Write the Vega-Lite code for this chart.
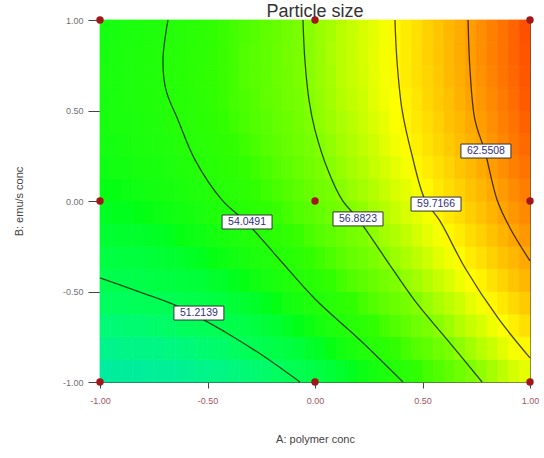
{
"$schema":"https://vega.github.io/schema/vega-lite/v6.json",
"width":430,"height":362,
"autosize":{"type":"none"},
"padding":{"left":100,"top":20,"right":14,"bottom":76},
"background":"white",
"title":{"text":"Particle size","fontSize":18,"font":"Liberation Sans","fontWeight":"normal","color":"#333333","anchor":"middle","offset":-5,"frame":"group"},
"config":{"view":{"stroke":"#4a4a4a","strokeWidth":1}},
"datasets":{
"labels":[
{"level":"51.2139","A":-0.54,"B":-0.619},
{"level":"54.0491","A":-0.316,"B":-0.116},
{"level":"56.8823","A":0.2,"B":-0.099},
{"level":"59.7166","A":0.563,"B":-0.017},
{"level":"62.5508","A":0.795,"B":0.276}
],
"design":[
{"A":-1,"B":-1},{"A":-1,"B":0},{"A":-1,"B":1},{"A":0,"B":-1},{"A":0,"B":0},{"A":0,"B":1},{"A":1,"B":-1},{"A":1,"B":0},{"A":1,"B":1}
],
"contours":[
{"level":"51.2139","A":-1,"B":-0.425,"ord":1},{"level":"51.2139","A":-0.814,"B":-0.503,"ord":2},{"level":"51.2139","A":-0.651,"B":-0.575,"ord":3},{"level":"51.2139","A":-0.535,"B":-0.646,"ord":4},{"level":"51.2139","A":-0.395,"B":-0.74,"ord":5},{"level":"51.2139","A":-0.233,"B":-0.862,"ord":6},{"level":"51.2139","A":-0.07,"B":-1,"ord":7},
{"level":"54.0491","A":-0.684,"B":1,"ord":1},{"level":"54.0491","A":-0.707,"B":0.779,"ord":2},{"level":"54.0491","A":-0.693,"B":0.613,"ord":3},{"level":"54.0491","A":-0.637,"B":0.448,"ord":4},{"level":"54.0491","A":-0.558,"B":0.227,"ord":5},{"level":"54.0491","A":-0.433,"B":0.006,"ord":6},{"level":"54.0491","A":-0.316,"B":-0.122,"ord":7},{"level":"54.0491","A":-0.163,"B":-0.326,"ord":8},{"level":"54.0491","A":0,"B":-0.541,"ord":9},{"level":"54.0491","A":0.209,"B":-0.768,"ord":10},{"level":"54.0491","A":0.409,"B":-1,"ord":11},
{"level":"56.8823","A":-0.056,"B":1,"ord":1},{"level":"56.8823","A":-0.047,"B":0.779,"ord":2},{"level":"56.8823","A":-0.028,"B":0.558,"ord":3},{"level":"56.8823","A":0,"B":0.392,"ord":4},{"level":"56.8823","A":0.06,"B":0.171,"ord":5},{"level":"56.8823","A":0.126,"B":0.006,"ord":6},{"level":"56.8823","A":0.2,"B":-0.099,"ord":7},{"level":"56.8823","A":0.326,"B":-0.315,"ord":8},{"level":"56.8823","A":0.465,"B":-0.552,"ord":9},{"level":"56.8823","A":0.628,"B":-0.785,"ord":10},{"level":"56.8823","A":0.777,"B":-1,"ord":11},
{"level":"59.7166","A":0.372,"B":1,"ord":1},{"level":"59.7166","A":0.381,"B":0.779,"ord":2},{"level":"59.7166","A":0.405,"B":0.503,"ord":3},{"level":"59.7166","A":0.451,"B":0.254,"ord":4},{"level":"59.7166","A":0.512,"B":0.006,"ord":5},{"level":"59.7166","A":0.581,"B":-0.11,"ord":6},{"level":"59.7166","A":0.698,"B":-0.37,"ord":7},{"level":"59.7166","A":0.851,"B":-0.646,"ord":8},{"level":"59.7166","A":1,"B":-0.867,"ord":9},
{"level":"62.5508","A":0.712,"B":1,"ord":1},{"level":"62.5508","A":0.721,"B":0.724,"ord":2},{"level":"62.5508","A":0.744,"B":0.448,"ord":3},{"level":"62.5508","A":0.791,"B":0.271,"ord":4},{"level":"62.5508","A":0.847,"B":0.006,"ord":5},{"level":"62.5508","A":0.907,"B":-0.149,"ord":6},{"level":"62.5508","A":1,"B":-0.331,"ord":7}
],
"grid":[
{"B":-0.9375,"A":-0.975,"size":49.3},{"B":-0.9375,"A":-0.925,"size":49.4},{"B":-0.9375,"A":-0.875,"size":49.4},{"B":-0.9375,"A":-0.825,"size":49.4},{"B":-0.9375,"A":-0.775,"size":49.5},{"B":-0.9375,"A":-0.725,"size":49.6},{"B":-0.9375,"A":-0.675,"size":49.6},{"B":-0.9375,"A":-0.625,"size":49.7},{"B":-0.9375,"A":-0.575,"size":49.9},{"B":-0.9375,"A":-0.525,"size":50.0},{"B":-0.9375,"A":-0.475,"size":50.1},{"B":-0.9375,"A":-0.425,"size":50.2},{"B":-0.9375,"A":-0.375,"size":50.4},{"B":-0.9375,"A":-0.325,"size":50.6},{"B":-0.9375,"A":-0.275,"size":50.7},{"B":-0.9375,"A":-0.225,"size":50.9},{"B":-0.9375,"A":-0.175,"size":51.1},{"B":-0.9375,"A":-0.125,"size":51.4},{"B":-0.9375,"A":-0.075,"size":51.6},{"B":-0.9375,"A":-0.025,"size":51.8},{"B":-0.9375,"A":0.025,"size":52.1},{"B":-0.9375,"A":0.075,"size":52.3},{"B":-0.9375,"A":0.125,"size":52.6},{"B":-0.9375,"A":0.175,"size":52.9},{"B":-0.9375,"A":0.225,"size":53.2},{"B":-0.9375,"A":0.275,"size":53.5},{"B":-0.9375,"A":0.325,"size":53.8},{"B":-0.9375,"A":0.375,"size":54.2},{"B":-0.9375,"A":0.425,"size":54.5},{"B":-0.9375,"A":0.475,"size":54.9},{"B":-0.9375,"A":0.525,"size":55.3},{"B":-0.9375,"A":0.575,"size":55.6},{"B":-0.9375,"A":0.625,"size":56.0},{"B":-0.9375,"A":0.675,"size":56.4},{"B":-0.9375,"A":0.725,"size":56.9},{"B":-0.9375,"A":0.775,"size":57.3},{"B":-0.9375,"A":0.825,"size":57.7},{"B":-0.9375,"A":0.875,"size":58.2},{"B":-0.9375,"A":0.925,"size":58.7},{"B":-0.9375,"A":0.975,"size":59.1},
{"B":-0.8125,"A":-0.975,"size":50.0},{"B":-0.8125,"A":-0.925,"size":50.0},{"B":-0.8125,"A":-0.875,"size":50.1},{"B":-0.8125,"A":-0.825,"size":50.1},{"B":-0.8125,"A":-0.775,"size":50.2},{"B":-0.8125,"A":-0.725,"size":50.2},{"B":-0.8125,"A":-0.675,"size":50.3},{"B":-0.8125,"A":-0.625,"size":50.4},{"B":-0.8125,"A":-0.575,"size":50.5},{"B":-0.8125,"A":-0.525,"size":50.7},{"B":-0.8125,"A":-0.475,"size":50.8},{"B":-0.8125,"A":-0.425,"size":50.9},{"B":-0.8125,"A":-0.375,"size":51.1},{"B":-0.8125,"A":-0.325,"size":51.3},{"B":-0.8125,"A":-0.275,"size":51.5},{"B":-0.8125,"A":-0.225,"size":51.7},{"B":-0.8125,"A":-0.175,"size":51.9},{"B":-0.8125,"A":-0.125,"size":52.1},{"B":-0.8125,"A":-0.075,"size":52.3},{"B":-0.8125,"A":-0.025,"size":52.6},{"B":-0.8125,"A":0.025,"size":52.8},{"B":-0.8125,"A":0.075,"size":53.1},{"B":-0.8125,"A":0.125,"size":53.4},{"B":-0.8125,"A":0.175,"size":53.7},{"B":-0.8125,"A":0.225,"size":54.0},{"B":-0.8125,"A":0.275,"size":54.3},{"B":-0.8125,"A":0.325,"size":54.6},{"B":-0.8125,"A":0.375,"size":54.9},{"B":-0.8125,"A":0.425,"size":55.3},{"B":-0.8125,"A":0.475,"size":55.7},{"B":-0.8125,"A":0.525,"size":56.0},{"B":-0.8125,"A":0.575,"size":56.4},{"B":-0.8125,"A":0.625,"size":56.8},{"B":-0.8125,"A":0.675,"size":57.2},{"B":-0.8125,"A":0.725,"size":57.6},{"B":-0.8125,"A":0.775,"size":58.1},{"B":-0.8125,"A":0.825,"size":58.5},{"B":-0.8125,"A":0.875,"size":59.0},{"B":-0.8125,"A":0.925,"size":59.5},{"B":-0.8125,"A":0.975,"size":59.9},
{"B":-0.6875,"A":-0.975,"size":50.6},{"B":-0.6875,"A":-0.925,"size":50.6},{"B":-0.6875,"A":-0.875,"size":50.7},{"B":-0.6875,"A":-0.825,"size":50.7},{"B":-0.6875,"A":-0.775,"size":50.8},{"B":-0.6875,"A":-0.725,"size":50.9},{"B":-0.6875,"A":-0.675,"size":51.0},{"B":-0.6875,"A":-0.625,"size":51.1},{"B":-0.6875,"A":-0.575,"size":51.2},{"B":-0.6875,"A":-0.525,"size":51.3},{"B":-0.6875,"A":-0.475,"size":51.4},{"B":-0.6875,"A":-0.425,"size":51.6},{"B":-0.6875,"A":-0.375,"size":51.8},{"B":-0.6875,"A":-0.325,"size":51.9},{"B":-0.6875,"A":-0.275,"size":52.1},{"B":-0.6875,"A":-0.225,"size":52.3},{"B":-0.6875,"A":-0.175,"size":52.5},{"B":-0.6875,"A":-0.125,"size":52.8},{"B":-0.6875,"A":-0.075,"size":53.0},{"B":-0.6875,"A":-0.025,"size":53.2},{"B":-0.6875,"A":0.025,"size":53.5},{"B":-0.6875,"A":0.075,"size":53.8},{"B":-0.6875,"A":0.125,"size":54.1},{"B":-0.6875,"A":0.175,"size":54.3},{"B":-0.6875,"A":0.225,"size":54.7},{"B":-0.6875,"A":0.275,"size":55.0},{"B":-0.6875,"A":0.325,"size":55.3},{"B":-0.6875,"A":0.375,"size":55.6},{"B":-0.6875,"A":0.425,"size":56.0},{"B":-0.6875,"A":0.475,"size":56.4},{"B":-0.6875,"A":0.525,"size":56.8},{"B":-0.6875,"A":0.575,"size":57.1},{"B":-0.6875,"A":0.625,"size":57.5},{"B":-0.6875,"A":0.675,"size":58.0},{"B":-0.6875,"A":0.725,"size":58.4},{"B":-0.6875,"A":0.775,"size":58.8},{"B":-0.6875,"A":0.825,"size":59.3},{"B":-0.6875,"A":0.875,"size":59.7},{"B":-0.6875,"A":0.925,"size":60.2},{"B":-0.6875,"A":0.975,"size":60.7},
{"B":-0.5625,"A":-0.975,"size":51.1},{"B":-0.5625,"A":-0.925,"size":51.2},{"B":-0.5625,"A":-0.875,"size":51.2},{"B":-0.5625,"A":-0.825,"size":51.3},{"B":-0.5625,"A":-0.775,"size":51.4},{"B":-0.5625,"A":-0.725,"size":51.4},{"B":-0.5625,"A":-0.675,"size":51.5},{"B":-0.5625,"A":-0.625,"size":51.6},{"B":-0.5625,"A":-0.575,"size":51.8},{"B":-0.5625,"A":-0.525,"size":51.9},{"B":-0.5625,"A":-0.475,"size":52.0},{"B":-0.5625,"A":-0.425,"size":52.2},{"B":-0.5625,"A":-0.375,"size":52.4},{"B":-0.5625,"A":-0.325,"size":52.5},{"B":-0.5625,"A":-0.275,"size":52.7},{"B":-0.5625,"A":-0.225,"size":52.9},{"B":-0.5625,"A":-0.175,"size":53.1},{"B":-0.5625,"A":-0.125,"size":53.4},{"B":-0.5625,"A":-0.075,"size":53.6},{"B":-0.5625,"A":-0.025,"size":53.9},{"B":-0.5625,"A":0.025,"size":54.1},{"B":-0.5625,"A":0.075,"size":54.4},{"B":-0.5625,"A":0.125,"size":54.7},{"B":-0.5625,"A":0.175,"size":55.0},{"B":-0.5625,"A":0.225,"size":55.3},{"B":-0.5625,"A":0.275,"size":55.6},{"B":-0.5625,"A":0.325,"size":56.0},{"B":-0.5625,"A":0.375,"size":56.3},{"B":-0.5625,"A":0.425,"size":56.7},{"B":-0.5625,"A":0.475,"size":57.0},{"B":-0.5625,"A":0.525,"size":57.4},{"B":-0.5625,"A":0.575,"size":57.8},{"B":-0.5625,"A":0.625,"size":58.2},{"B":-0.5625,"A":0.675,"size":58.6},{"B":-0.5625,"A":0.725,"size":59.1},{"B":-0.5625,"A":0.775,"size":59.5},{"B":-0.5625,"A":0.825,"size":60.0},{"B":-0.5625,"A":0.875,"size":60.4},{"B":-0.5625,"A":0.925,"size":60.9},{"B":-0.5625,"A":0.975,"size":61.4},
{"B":-0.4375,"A":-0.975,"size":51.6},{"B":-0.4375,"A":-0.925,"size":51.7},{"B":-0.4375,"A":-0.875,"size":51.7},{"B":-0.4375,"A":-0.825,"size":51.8},{"B":-0.4375,"A":-0.775,"size":51.9},{"B":-0.4375,"A":-0.725,"size":52.0},{"B":-0.4375,"A":-0.675,"size":52.1},{"B":-0.4375,"A":-0.625,"size":52.2},{"B":-0.4375,"A":-0.575,"size":52.3},{"B":-0.4375,"A":-0.525,"size":52.4},{"B":-0.4375,"A":-0.475,"size":52.6},{"B":-0.4375,"A":-0.425,"size":52.7},{"B":-0.4375,"A":-0.375,"size":52.9},{"B":-0.4375,"A":-0.325,"size":53.1},{"B":-0.4375,"A":-0.275,"size":53.3},{"B":-0.4375,"A":-0.225,"size":53.5},{"B":-0.4375,"A":-0.175,"size":53.7},{"B":-0.4375,"A":-0.125,"size":53.9},{"B":-0.4375,"A":-0.075,"size":54.2},{"B":-0.4375,"A":-0.025,"size":54.4},{"B":-0.4375,"A":0.025,"size":54.7},{"B":-0.4375,"A":0.075,"size":55.0},{"B":-0.4375,"A":0.125,"size":55.3},{"B":-0.4375,"A":0.175,"size":55.6},{"B":-0.4375,"A":0.225,"size":55.9},{"B":-0.4375,"A":0.275,"size":56.2},{"B":-0.4375,"A":0.325,"size":56.6},{"B":-0.4375,"A":0.375,"size":56.9},{"B":-0.4375,"A":0.425,"size":57.3},{"B":-0.4375,"A":0.475,"size":57.6},{"B":-0.4375,"A":0.525,"size":58.0},{"B":-0.4375,"A":0.575,"size":58.4},{"B":-0.4375,"A":0.625,"size":58.8},{"B":-0.4375,"A":0.675,"size":59.3},{"B":-0.4375,"A":0.725,"size":59.7},{"B":-0.4375,"A":0.775,"size":60.1},{"B":-0.4375,"A":0.825,"size":60.6},{"B":-0.4375,"A":0.875,"size":61.1},{"B":-0.4375,"A":0.925,"size":61.6},{"B":-0.4375,"A":0.975,"size":62.1},
{"B":-0.3125,"A":-0.975,"size":52.1},{"B":-0.3125,"A":-0.925,"size":52.1},{"B":-0.3125,"A":-0.875,"size":52.2},{"B":-0.3125,"A":-0.825,"size":52.2},{"B":-0.3125,"A":-0.775,"size":52.3},{"B":-0.3125,"A":-0.725,"size":52.4},{"B":-0.3125,"A":-0.675,"size":52.5},{"B":-0.3125,"A":-0.625,"size":52.6},{"B":-0.3125,"A":-0.575,"size":52.8},{"B":-0.3125,"A":-0.525,"size":52.9},{"B":-0.3125,"A":-0.475,"size":53.1},{"B":-0.3125,"A":-0.425,"size":53.2},{"B":-0.3125,"A":-0.375,"size":53.4},{"B":-0.3125,"A":-0.325,"size":53.6},{"B":-0.3125,"A":-0.275,"size":53.8},{"B":-0.3125,"A":-0.225,"size":54.0},{"B":-0.3125,"A":-0.175,"size":54.2},{"B":-0.3125,"A":-0.125,"size":54.4},{"B":-0.3125,"A":-0.075,"size":54.7},{"B":-0.3125,"A":-0.025,"size":55.0},{"B":-0.3125,"A":0.025,"size":55.2},{"B":-0.3125,"A":0.075,"size":55.5},{"B":-0.3125,"A":0.125,"size":55.8},{"B":-0.3125,"A":0.175,"size":56.1},{"B":-0.3125,"A":0.225,"size":56.4},{"B":-0.3125,"A":0.275,"size":56.8},{"B":-0.3125,"A":0.325,"size":57.1},{"B":-0.3125,"A":0.375,"size":57.5},{"B":-0.3125,"A":0.425,"size":57.8},{"B":-0.3125,"A":0.475,"size":58.2},{"B":-0.3125,"A":0.525,"size":58.6},{"B":-0.3125,"A":0.575,"size":59.0},{"B":-0.3125,"A":0.625,"size":59.4},{"B":-0.3125,"A":0.675,"size":59.8},{"B":-0.3125,"A":0.725,"size":60.3},{"B":-0.3125,"A":0.775,"size":60.7},{"B":-0.3125,"A":0.825,"size":61.2},{"B":-0.3125,"A":0.875,"size":61.7},{"B":-0.3125,"A":0.925,"size":62.1},{"B":-0.3125,"A":0.975,"size":62.6},
{"B":-0.1875,"A":-0.975,"size":52.5},{"B":-0.1875,"A":-0.925,"size":52.5},{"B":-0.1875,"A":-0.875,"size":52.6},{"B":-0.1875,"A":-0.825,"size":52.6},{"B":-0.1875,"A":-0.775,"size":52.7},{"B":-0.1875,"A":-0.725,"size":52.8},{"B":-0.1875,"A":-0.675,"size":52.9},{"B":-0.1875,"A":-0.625,"size":53.1},{"B":-0.1875,"A":-0.575,"size":53.2},{"B":-0.1875,"A":-0.525,"size":53.3},{"B":-0.1875,"A":-0.475,"size":53.5},{"B":-0.1875,"A":-0.425,"size":53.6},{"B":-0.1875,"A":-0.375,"size":53.8},{"B":-0.1875,"A":-0.325,"size":54.0},{"B":-0.1875,"A":-0.275,"size":54.2},{"B":-0.1875,"A":-0.225,"size":54.4},{"B":-0.1875,"A":-0.175,"size":54.7},{"B":-0.1875,"A":-0.125,"size":54.9},{"B":-0.1875,"A":-0.075,"size":55.1},{"B":-0.1875,"A":-0.025,"size":55.4},{"B":-0.1875,"A":0.025,"size":55.7},{"B":-0.1875,"A":0.075,"size":56.0},{"B":-0.1875,"A":0.125,"size":56.3},{"B":-0.1875,"A":0.175,"size":56.6},{"B":-0.1875,"A":0.225,"size":56.9},{"B":-0.1875,"A":0.275,"size":57.2},{"B":-0.1875,"A":0.325,"size":57.6},{"B":-0.1875,"A":0.375,"size":57.9},{"B":-0.1875,"A":0.425,"size":58.3},{"B":-0.1875,"A":0.475,"size":58.7},{"B":-0.1875,"A":0.525,"size":59.1},{"B":-0.1875,"A":0.575,"size":59.5},{"B":-0.1875,"A":0.625,"size":59.9},{"B":-0.1875,"A":0.675,"size":60.3},{"B":-0.1875,"A":0.725,"size":60.8},{"B":-0.1875,"A":0.775,"size":61.2},{"B":-0.1875,"A":0.825,"size":61.7},{"B":-0.1875,"A":0.875,"size":62.2},{"B":-0.1875,"A":0.925,"size":62.7},{"B":-0.1875,"A":0.975,"size":63.2},
{"B":-0.0625,"A":-0.975,"size":52.8},{"B":-0.0625,"A":-0.925,"size":52.9},{"B":-0.0625,"A":-0.875,"size":52.9},{"B":-0.0625,"A":-0.825,"size":53.0},{"B":-0.0625,"A":-0.775,"size":53.1},{"B":-0.0625,"A":-0.725,"size":53.2},{"B":-0.0625,"A":-0.675,"size":53.3},{"B":-0.0625,"A":-0.625,"size":53.4},{"B":-0.0625,"A":-0.575,"size":53.5},{"B":-0.0625,"A":-0.525,"size":53.7},{"B":-0.0625,"A":-0.475,"size":53.9},{"B":-0.0625,"A":-0.425,"size":54.0},{"B":-0.0625,"A":-0.375,"size":54.2},{"B":-0.0625,"A":-0.325,"size":54.4},{"B":-0.0625,"A":-0.275,"size":54.6},{"B":-0.0625,"A":-0.225,"size":54.8},{"B":-0.0625,"A":-0.175,"size":55.1},{"B":-0.0625,"A":-0.125,"size":55.3},{"B":-0.0625,"A":-0.075,"size":55.6},{"B":-0.0625,"A":-0.025,"size":55.8},{"B":-0.0625,"A":0.025,"size":56.1},{"B":-0.0625,"A":0.075,"size":56.4},{"B":-0.0625,"A":0.125,"size":56.7},{"B":-0.0625,"A":0.175,"size":57.0},{"B":-0.0625,"A":0.225,"size":57.3},{"B":-0.0625,"A":0.275,"size":57.7},{"B":-0.0625,"A":0.325,"size":58.0},{"B":-0.0625,"A":0.375,"size":58.4},{"B":-0.0625,"A":0.425,"size":58.8},{"B":-0.0625,"A":0.475,"size":59.1},{"B":-0.0625,"A":0.525,"size":59.5},{"B":-0.0625,"A":0.575,"size":60.0},{"B":-0.0625,"A":0.625,"size":60.4},{"B":-0.0625,"A":0.675,"size":60.8},{"B":-0.0625,"A":0.725,"size":61.3},{"B":-0.0625,"A":0.775,"size":61.7},{"B":-0.0625,"A":0.825,"size":62.2},{"B":-0.0625,"A":0.875,"size":62.7},{"B":-0.0625,"A":0.925,"size":63.2},{"B":-0.0625,"A":0.975,"size":63.7},
{"B":0.0625,"A":-0.975,"size":53.1},{"B":0.0625,"A":-0.925,"size":53.1},{"B":0.0625,"A":-0.875,"size":53.2},{"B":0.0625,"A":-0.825,"size":53.3},{"B":0.0625,"A":-0.775,"size":53.4},{"B":0.0625,"A":-0.725,"size":53.5},{"B":0.0625,"A":-0.675,"size":53.6},{"B":0.0625,"A":-0.625,"size":53.7},{"B":0.0625,"A":-0.575,"size":53.9},{"B":0.0625,"A":-0.525,"size":54.0},{"B":0.0625,"A":-0.475,"size":54.2},{"B":0.0625,"A":-0.425,"size":54.3},{"B":0.0625,"A":-0.375,"size":54.5},{"B":0.0625,"A":-0.325,"size":54.7},{"B":0.0625,"A":-0.275,"size":54.9},{"B":0.0625,"A":-0.225,"size":55.2},{"B":0.0625,"A":-0.175,"size":55.4},{"B":0.0625,"A":-0.125,"size":55.6},{"B":0.0625,"A":-0.075,"size":55.9},{"B":0.0625,"A":-0.025,"size":56.2},{"B":0.0625,"A":0.025,"size":56.5},{"B":0.0625,"A":0.075,"size":56.7},{"B":0.0625,"A":0.125,"size":57.1},{"B":0.0625,"A":0.175,"size":57.4},{"B":0.0625,"A":0.225,"size":57.7},{"B":0.0625,"A":0.275,"size":58.0},{"B":0.0625,"A":0.325,"size":58.4},{"B":0.0625,"A":0.375,"size":58.8},{"B":0.0625,"A":0.425,"size":59.1},{"B":0.0625,"A":0.475,"size":59.5},{"B":0.0625,"A":0.525,"size":59.9},{"B":0.0625,"A":0.575,"size":60.4},{"B":0.0625,"A":0.625,"size":60.8},{"B":0.0625,"A":0.675,"size":61.2},{"B":0.0625,"A":0.725,"size":61.7},{"B":0.0625,"A":0.775,"size":62.1},{"B":0.0625,"A":0.825,"size":62.6},{"B":0.0625,"A":0.875,"size":63.1},{"B":0.0625,"A":0.925,"size":63.6},{"B":0.0625,"A":0.975,"size":64.1},
{"B":0.1875,"A":-0.975,"size":53.3},{"B":0.1875,"A":-0.925,"size":53.4},{"B":0.1875,"A":-0.875,"size":53.4},{"B":0.1875,"A":-0.825,"size":53.5},{"B":0.1875,"A":-0.775,"size":53.6},{"B":0.1875,"A":-0.725,"size":53.7},{"B":0.1875,"A":-0.675,"size":53.8},{"B":0.1875,"A":-0.625,"size":54.0},{"B":0.1875,"A":-0.575,"size":54.1},{"B":0.1875,"A":-0.525,"size":54.3},{"B":0.1875,"A":-0.475,"size":54.4},{"B":0.1875,"A":-0.425,"size":54.6},{"B":0.1875,"A":-0.375,"size":54.8},{"B":0.1875,"A":-0.325,"size":55.0},{"B":0.1875,"A":-0.275,"size":55.2},{"B":0.1875,"A":-0.225,"size":55.4},{"B":0.1875,"A":-0.175,"size":55.7},{"B":0.1875,"A":-0.125,"size":55.9},{"B":0.1875,"A":-0.075,"size":56.2},{"B":0.1875,"A":-0.025,"size":56.5},{"B":0.1875,"A":0.025,"size":56.8},{"B":0.1875,"A":0.075,"size":57.1},{"B":0.1875,"A":0.125,"size":57.4},{"B":0.1875,"A":0.175,"size":57.7},{"B":0.1875,"A":0.225,"size":58.0},{"B":0.1875,"A":0.275,"size":58.4},{"B":0.1875,"A":0.325,"size":58.7},{"B":0.1875,"A":0.375,"size":59.1},{"B":0.1875,"A":0.425,"size":59.5},{"B":0.1875,"A":0.475,"size":59.9},{"B":0.1875,"A":0.525,"size":60.3},{"B":0.1875,"A":0.575,"size":60.7},{"B":0.1875,"A":0.625,"size":61.1},{"B":0.1875,"A":0.675,"size":61.6},{"B":0.1875,"A":0.725,"size":62.0},{"B":0.1875,"A":0.775,"size":62.5},{"B":0.1875,"A":0.825,"size":63.0},{"B":0.1875,"A":0.875,"size":63.5},{"B":0.1875,"A":0.925,"size":64.0},{"B":0.1875,"A":0.975,"size":64.5},
{"B":0.3125,"A":-0.975,"size":53.5},{"B":0.3125,"A":-0.925,"size":53.5},{"B":0.3125,"A":-0.875,"size":53.6},{"B":0.3125,"A":-0.825,"size":53.7},{"B":0.3125,"A":-0.775,"size":53.8},{"B":0.3125,"A":-0.725,"size":53.9},{"B":0.3125,"A":-0.675,"size":54.0},{"B":0.3125,"A":-0.625,"size":54.2},{"B":0.3125,"A":-0.575,"size":54.3},{"B":0.3125,"A":-0.525,"size":54.5},{"B":0.3125,"A":-0.475,"size":54.6},{"B":0.3125,"A":-0.425,"size":54.8},{"B":0.3125,"A":-0.375,"size":55.0},{"B":0.3125,"A":-0.325,"size":55.2},{"B":0.3125,"A":-0.275,"size":55.4},{"B":0.3125,"A":-0.225,"size":55.7},{"B":0.3125,"A":-0.175,"size":55.9},{"B":0.3125,"A":-0.125,"size":56.2},{"B":0.3125,"A":-0.075,"size":56.4},{"B":0.3125,"A":-0.025,"size":56.7},{"B":0.3125,"A":0.025,"size":57.0},{"B":0.3125,"A":0.075,"size":57.3},{"B":0.3125,"A":0.125,"size":57.6},{"B":0.3125,"A":0.175,"size":57.9},{"B":0.3125,"A":0.225,"size":58.3},{"B":0.3125,"A":0.275,"size":58.6},{"B":0.3125,"A":0.325,"size":59.0},{"B":0.3125,"A":0.375,"size":59.4},{"B":0.3125,"A":0.425,"size":59.8},{"B":0.3125,"A":0.475,"size":60.2},{"B":0.3125,"A":0.525,"size":60.6},{"B":0.3125,"A":0.575,"size":61.0},{"B":0.3125,"A":0.625,"size":61.4},{"B":0.3125,"A":0.675,"size":61.9},{"B":0.3125,"A":0.725,"size":62.3},{"B":0.3125,"A":0.775,"size":62.8},{"B":0.3125,"A":0.825,"size":63.3},{"B":0.3125,"A":0.875,"size":63.8},{"B":0.3125,"A":0.925,"size":64.3},{"B":0.3125,"A":0.975,"size":64.8},
{"B":0.4375,"A":-0.975,"size":53.6},{"B":0.4375,"A":-0.925,"size":53.7},{"B":0.4375,"A":-0.875,"size":53.7},{"B":0.4375,"A":-0.825,"size":53.8},{"B":0.4375,"A":-0.775,"size":53.9},{"B":0.4375,"A":-0.725,"size":54.0},{"B":0.4375,"A":-0.675,"size":54.2},{"B":0.4375,"A":-0.625,"size":54.3},{"B":0.4375,"A":-0.575,"size":54.5},{"B":0.4375,"A":-0.525,"size":54.6},{"B":0.4375,"A":-0.475,"size":54.8},{"B":0.4375,"A":-0.425,"size":55.0},{"B":0.4375,"A":-0.375,"size":55.2},{"B":0.4375,"A":-0.325,"size":55.4},{"B":0.4375,"A":-0.275,"size":55.6},{"B":0.4375,"A":-0.225,"size":55.8},{"B":0.4375,"A":-0.175,"size":56.1},{"B":0.4375,"A":-0.125,"size":56.3},{"B":0.4375,"A":-0.075,"size":56.6},{"B":0.4375,"A":-0.025,"size":56.9},{"B":0.4375,"A":0.025,"size":57.2},{"B":0.4375,"A":0.075,"size":57.5},{"B":0.4375,"A":0.125,"size":57.8},{"B":0.4375,"A":0.175,"size":58.1},{"B":0.4375,"A":0.225,"size":58.5},{"B":0.4375,"A":0.275,"size":58.8},{"B":0.4375,"A":0.325,"size":59.2},{"B":0.4375,"A":0.375,"size":59.6},{"B":0.4375,"A":0.425,"size":60.0},{"B":0.4375,"A":0.475,"size":60.4},{"B":0.4375,"A":0.525,"size":60.8},{"B":0.4375,"A":0.575,"size":61.2},{"B":0.4375,"A":0.625,"size":61.7},{"B":0.4375,"A":0.675,"size":62.1},{"B":0.4375,"A":0.725,"size":62.6},{"B":0.4375,"A":0.775,"size":63.0},{"B":0.4375,"A":0.825,"size":63.5},{"B":0.4375,"A":0.875,"size":64.0},{"B":0.4375,"A":0.925,"size":64.5},{"B":0.4375,"A":0.975,"size":65.1},
{"B":0.5625,"A":-0.975,"size":53.6},{"B":0.5625,"A":-0.925,"size":53.7},{"B":0.5625,"A":-0.875,"size":53.8},{"B":0.5625,"A":-0.825,"size":53.9},{"B":0.5625,"A":-0.775,"size":54.0},{"B":0.5625,"A":-0.725,"size":54.1},{"B":0.5625,"A":-0.675,"size":54.2},{"B":0.5625,"A":-0.625,"size":54.4},{"B":0.5625,"A":-0.575,"size":54.5},{"B":0.5625,"A":-0.525,"size":54.7},{"B":0.5625,"A":-0.475,"size":54.9},{"B":0.5625,"A":-0.425,"size":55.1},{"B":0.5625,"A":-0.375,"size":55.3},{"B":0.5625,"A":-0.325,"size":55.5},{"B":0.5625,"A":-0.275,"size":55.7},{"B":0.5625,"A":-0.225,"size":56.0},{"B":0.5625,"A":-0.175,"size":56.2},{"B":0.5625,"A":-0.125,"size":56.5},{"B":0.5625,"A":-0.075,"size":56.7},{"B":0.5625,"A":-0.025,"size":57.0},{"B":0.5625,"A":0.025,"size":57.3},{"B":0.5625,"A":0.075,"size":57.6},{"B":0.5625,"A":0.125,"size":58.0},{"B":0.5625,"A":0.175,"size":58.3},{"B":0.5625,"A":0.225,"size":58.6},{"B":0.5625,"A":0.275,"size":59.0},{"B":0.5625,"A":0.325,"size":59.4},{"B":0.5625,"A":0.375,"size":59.7},{"B":0.5625,"A":0.425,"size":60.1},{"B":0.5625,"A":0.475,"size":60.5},{"B":0.5625,"A":0.525,"size":61.0},{"B":0.5625,"A":0.575,"size":61.4},{"B":0.5625,"A":0.625,"size":61.8},{"B":0.5625,"A":0.675,"size":62.3},{"B":0.5625,"A":0.725,"size":62.8},{"B":0.5625,"A":0.775,"size":63.2},{"B":0.5625,"A":0.825,"size":63.7},{"B":0.5625,"A":0.875,"size":64.2},{"B":0.5625,"A":0.925,"size":64.7},{"B":0.5625,"A":0.975,"size":65.3},
{"B":0.6875,"A":-0.975,"size":53.7},{"B":0.6875,"A":-0.925,"size":53.7},{"B":0.6875,"A":-0.875,"size":53.8},{"B":0.6875,"A":-0.825,"size":53.9},{"B":0.6875,"A":-0.775,"size":54.0},{"B":0.6875,"A":-0.725,"size":54.1},{"B":0.6875,"A":-0.675,"size":54.3},{"B":0.6875,"A":-0.625,"size":54.4},{"B":0.6875,"A":-0.575,"size":54.6},{"B":0.6875,"A":-0.525,"size":54.8},{"B":0.6875,"A":-0.475,"size":54.9},{"B":0.6875,"A":-0.425,"size":55.1},{"B":0.6875,"A":-0.375,"size":55.3},{"B":0.6875,"A":-0.325,"size":55.6},{"B":0.6875,"A":-0.275,"size":55.8},{"B":0.6875,"A":-0.225,"size":56.0},{"B":0.6875,"A":-0.175,"size":56.3},{"B":0.6875,"A":-0.125,"size":56.5},{"B":0.6875,"A":-0.075,"size":56.8},{"B":0.6875,"A":-0.025,"size":57.1},{"B":0.6875,"A":0.025,"size":57.4},{"B":0.6875,"A":0.075,"size":57.7},{"B":0.6875,"A":0.125,"size":58.1},{"B":0.6875,"A":0.175,"size":58.4},{"B":0.6875,"A":0.225,"size":58.7},{"B":0.6875,"A":0.275,"size":59.1},{"B":0.6875,"A":0.325,"size":59.5},{"B":0.6875,"A":0.375,"size":59.9},{"B":0.6875,"A":0.425,"size":60.3},{"B":0.6875,"A":0.475,"size":60.7},{"B":0.6875,"A":0.525,"size":61.1},{"B":0.6875,"A":0.575,"size":61.5},{"B":0.6875,"A":0.625,"size":62.0},{"B":0.6875,"A":0.675,"size":62.4},{"B":0.6875,"A":0.725,"size":62.9},{"B":0.6875,"A":0.775,"size":63.4},{"B":0.6875,"A":0.825,"size":63.9},{"B":0.6875,"A":0.875,"size":64.4},{"B":0.6875,"A":0.925,"size":64.9},{"B":0.6875,"A":0.975,"size":65.4},
{"B":0.8125,"A":-0.975,"size":53.6},{"B":0.8125,"A":-0.925,"size":53.7},{"B":0.8125,"A":-0.875,"size":53.8},{"B":0.8125,"A":-0.825,"size":53.9},{"B":0.8125,"A":-0.775,"size":54.0},{"B":0.8125,"A":-0.725,"size":54.1},{"B":0.8125,"A":-0.675,"size":54.3},{"B":0.8125,"A":-0.625,"size":54.4},{"B":0.8125,"A":-0.575,"size":54.6},{"B":0.8125,"A":-0.525,"size":54.7},{"B":0.8125,"A":-0.475,"size":54.9},{"B":0.8125,"A":-0.425,"size":55.1},{"B":0.8125,"A":-0.375,"size":55.3},{"B":0.8125,"A":-0.325,"size":55.6},{"B":0.8125,"A":-0.275,"size":55.8},{"B":0.8125,"A":-0.225,"size":56.0},{"B":0.8125,"A":-0.175,"size":56.3},{"B":0.8125,"A":-0.125,"size":56.6},{"B":0.8125,"A":-0.075,"size":56.8},{"B":0.8125,"A":-0.025,"size":57.1},{"B":0.8125,"A":0.025,"size":57.4},{"B":0.8125,"A":0.075,"size":57.8},{"B":0.8125,"A":0.125,"size":58.1},{"B":0.8125,"A":0.175,"size":58.4},{"B":0.8125,"A":0.225,"size":58.8},{"B":0.8125,"A":0.275,"size":59.1},{"B":0.8125,"A":0.325,"size":59.5},{"B":0.8125,"A":0.375,"size":59.9},{"B":0.8125,"A":0.425,"size":60.3},{"B":0.8125,"A":0.475,"size":60.7},{"B":0.8125,"A":0.525,"size":61.2},{"B":0.8125,"A":0.575,"size":61.6},{"B":0.8125,"A":0.625,"size":62.0},{"B":0.8125,"A":0.675,"size":62.5},{"B":0.8125,"A":0.725,"size":63.0},{"B":0.8125,"A":0.775,"size":63.5},{"B":0.8125,"A":0.825,"size":64.0},{"B":0.8125,"A":0.875,"size":64.5},{"B":0.8125,"A":0.925,"size":65.0},{"B":0.8125,"A":0.975,"size":65.5},
{"B":0.9375,"A":-0.975,"size":53.5},{"B":0.9375,"A":-0.925,"size":53.6},{"B":0.9375,"A":-0.875,"size":53.7},{"B":0.9375,"A":-0.825,"size":53.8},{"B":0.9375,"A":-0.775,"size":53.9},{"B":0.9375,"A":-0.725,"size":54.0},{"B":0.9375,"A":-0.675,"size":54.2},{"B":0.9375,"A":-0.625,"size":54.3},{"B":0.9375,"A":-0.575,"size":54.5},{"B":0.9375,"A":-0.525,"size":54.7},{"B":0.9375,"A":-0.475,"size":54.9},{"B":0.9375,"A":-0.425,"size":55.1},{"B":0.9375,"A":-0.375,"size":55.3},{"B":0.9375,"A":-0.325,"size":55.5},{"B":0.9375,"A":-0.275,"size":55.7},{"B":0.9375,"A":-0.225,"size":56.0},{"B":0.9375,"A":-0.175,"size":56.2},{"B":0.9375,"A":-0.125,"size":56.5},{"B":0.9375,"A":-0.075,"size":56.8},{"B":0.9375,"A":-0.025,"size":57.1},{"B":0.9375,"A":0.025,"size":57.4},{"B":0.9375,"A":0.075,"size":57.7},{"B":0.9375,"A":0.125,"size":58.1},{"B":0.9375,"A":0.175,"size":58.4},{"B":0.9375,"A":0.225,"size":58.8},{"B":0.9375,"A":0.275,"size":59.1},{"B":0.9375,"A":0.325,"size":59.5},{"B":0.9375,"A":0.375,"size":59.9},{"B":0.9375,"A":0.425,"size":60.3},{"B":0.9375,"A":0.475,"size":60.7},{"B":0.9375,"A":0.525,"size":61.2},{"B":0.9375,"A":0.575,"size":61.6},{"B":0.9375,"A":0.625,"size":62.1},{"B":0.9375,"A":0.675,"size":62.5},{"B":0.9375,"A":0.725,"size":63.0},{"B":0.9375,"A":0.775,"size":63.5},{"B":0.9375,"A":0.825,"size":64.0},{"B":0.9375,"A":0.875,"size":64.5},{"B":0.9375,"A":0.925,"size":65.0},{"B":0.9375,"A":0.975,"size":65.6}
]
},
"layer":[
{
"data":{"name":"grid"},
"mark":{"type":"rect","strokeWidth":0.8},
"encoding":{
"x":{"field":"A","type":"ordinal","axis":null,"scale":{"paddingInner":0,"paddingOuter":0}},
"y":{"field":"B","type":"ordinal","axis":null,"sort":"descending","scale":{"paddingInner":0,"paddingOuter":0}},
"color":{"field":"size","type":"quantitative","legend":null,"scale":{"domain":[48.9,51.2,53,55,56.9,58.3,59.7,61.1,62.6,64,65.6],"range":["#00e8a8","#00ff5a","#00ff14","#30ff00","#7cff00","#c0ff00","#ffff00","#ffd400","#ffa800","#ff8000","#ff5000"]}},
"stroke":{"field":"size","type":"quantitative","legend":null,"scale":{"domain":[48.9,51.2,53,55,56.9,58.3,59.7,61.1,62.6,64,65.6],"range":["#00e8a8","#00ff5a","#00ff14","#30ff00","#7cff00","#c0ff00","#ffff00","#ffd400","#ffa800","#ff8000","#ff5000"]}}
}
},
{
"encoding":{
"x":{"field":"A","type":"quantitative","scale":{"domain":[-1,1],"nice":false,"zero":false},
"axis":{"values":[-1,-0.5,0,0.5,1],"format":".2f","labelExpr":"replace(datum.label, '\u2212', '-')","title":"A: polymer conc","grid":false,"tickSize":6,"labelPadding":8,"labelFontSize":9,"labelFont":"Liberation Sans","labelColor":"#a05565","labelFlush":false,"titleFont":"Liberation Sans","titleFontSize":11,"titleFontWeight":"normal","titleColor":"#444444","titlePadding":28,"domainColor":"#444444","tickColor":"#444444"}},
"y":{"field":"B","type":"quantitative","scale":{"domain":[-1,1],"nice":false,"zero":false},
"axis":{"values":[-1,-0.5,0,0.5,1],"format":".2f","labelExpr":"replace(datum.label, '\u2212', '-')","title":"B: emu/s conc","grid":false,"tickSize":12,"labelPadding":5,"labelFontSize":9,"labelFont":"Liberation Sans","labelColor":"#707070","labelFlush":false,"titleFont":"Liberation Sans","titleFontSize":11,"titleFontWeight":"normal","titleColor":"#444444","titlePadding":38,"domainColor":"#444444","tickColor":"#444444"}}
},
"layer":[
{"data":{"name":"contours"},"mark":{"type":"line","interpolate":"catmull-rom","color":"#000000","opacity":0.7,"strokeWidth":1.3},
"encoding":{"detail":{"field":"level","type":"nominal"},"order":{"field":"ord","type":"quantitative"}}},
{"data":{"name":"labels"},"mark":{"type":"point","shape":"M-1,-0.28H1V0.28H-1Z","size":2500,"filled":true,"fill":"#ffffff","stroke":"#333333","strokeWidth":1,"opacity":1}},
{"data":{"name":"labels"},"mark":{"type":"text","fontSize":10.5,"font":"Liberation Sans","color":"#303080","align":"center","baseline":"middle"},
"encoding":{"text":{"field":"level","type":"nominal"}}},
{"data":{"name":"design"},"mark":{"type":"circle","size":55,"color":"#a3151b","opacity":1}}
]
}
],
"resolve":{"scale":{"x":"independent","y":"independent"}}
}
